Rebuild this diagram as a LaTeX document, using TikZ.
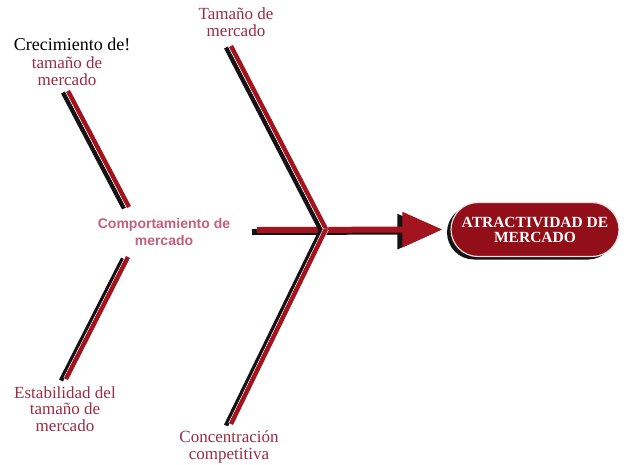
\documentclass[tikz,border=0pt]{standalone}
\usepackage{fontspec}
\setmainfont{Liberation Serif}
\newfontfamily\lsans{Liberation Sans}
\usetikzlibrary{shapes.misc,arrows.meta,shadows}
\definecolor{bonered}{HTML}{A3141E}
\definecolor{pillred}{HTML}{920E18}
\definecolor{labred}{HTML}{9C2B45}
\definecolor{labpink}{HTML}{C4607A}
\definecolor{shadowblk}{HTML}{161214}
\tikzset{
  lab/.style={text=labred, align=center, inner sep=0pt, font=\fontsize{17}{16.5}\selectfont},
  blacklab/.style={text=black, align=center, inner sep=0pt, font=\fontsize{18}{18}\selectfont},
  sanslab/.style={text=labpink, align=center, inner sep=0pt, font=\lsans\bfseries\fontsize{14}{17}\selectfont},
  shadowline/.style={draw=shadowblk, line width=4.4pt},
  redline/.style={draw=bonered, line width=4.4pt},
  gapline/.style={draw=white, line width=5.6pt},
  pill/.style={rounded rectangle, fill=pillred, draw=white!85!pillred, line width=1.2pt,
    minimum width=168pt, minimum height=54pt, text=white, align=center, inner sep=0pt,
    font=\bfseries\fontsize{15.5}{15}\selectfont,
    drop shadow={shadow xshift=-4pt, shadow yshift=-3pt, fill=shadowblk, opacity=1}},
}
\newcommand{\bone}[2]{%
  \draw[shadowline] ([shift={(-5,1.5)}]#1) -- ([shift={(-5,1.5)}]#2);
  \draw[gapline] (#1) -- (#2);
  \draw[redline] (#1) -- (#2);
}
\begin{document}
\begin{tikzpicture}[x=1pt,y=-1pt]
\useasboundingbox (0,0) rectangle (626,464);
\fill[white] (0,0) rectangle (626,464);

% target node
\node[pill] (att) at (535,229.5) {ATRACTIVIDAD DE\\MERCADO};

% labels
\node[blacklab] (cre) at (72,44) {Crecimiento de!};
\node[lab] (tam1) at (67,71) {tamaño de\\mercado};
\node[lab] (tm) at (236,22) {Tamaño de\\mercado};
\node[sanslab] (comp) at (164,232) {Comportamiento de\\mercado};
\node[lab] (est) at (65,409) {Estabilidad del\\tamaño de\\mercado};
\node[lab] (con) at (229,447) {Concentración\\competitiva};

% bone coordinates
\coordinate (j) at (326,229);
\coordinate (ul1) at (68,91);
\coordinate (ul2) at (129,207);
\coordinate (ll1) at (128,257);
\coordinate (ll2) at (66,379);
\coordinate (ur1) at (231,46);
\coordinate (lr2) at (231,424);
\coordinate (s1) at (257,230);

% spine with arrow (shadow first)
\draw[shadowblk, line width=6pt, -{Triangle[length=40pt,width=34pt]}]
  ([shift={(-5,2)}]s1) -- ([shift={(-13,2)}]att.west);
\draw[bonered, line width=6pt, -{Triangle[length=40pt,width=34pt]}]
  (s1) -- ([xshift=-8]att.west);

% bones
\bone{ul1}{ul2}
\bone{ll1}{ll2}
\bone{ur1}{j}
\bone{lr2}{j}
\end{tikzpicture}
\end{document}
